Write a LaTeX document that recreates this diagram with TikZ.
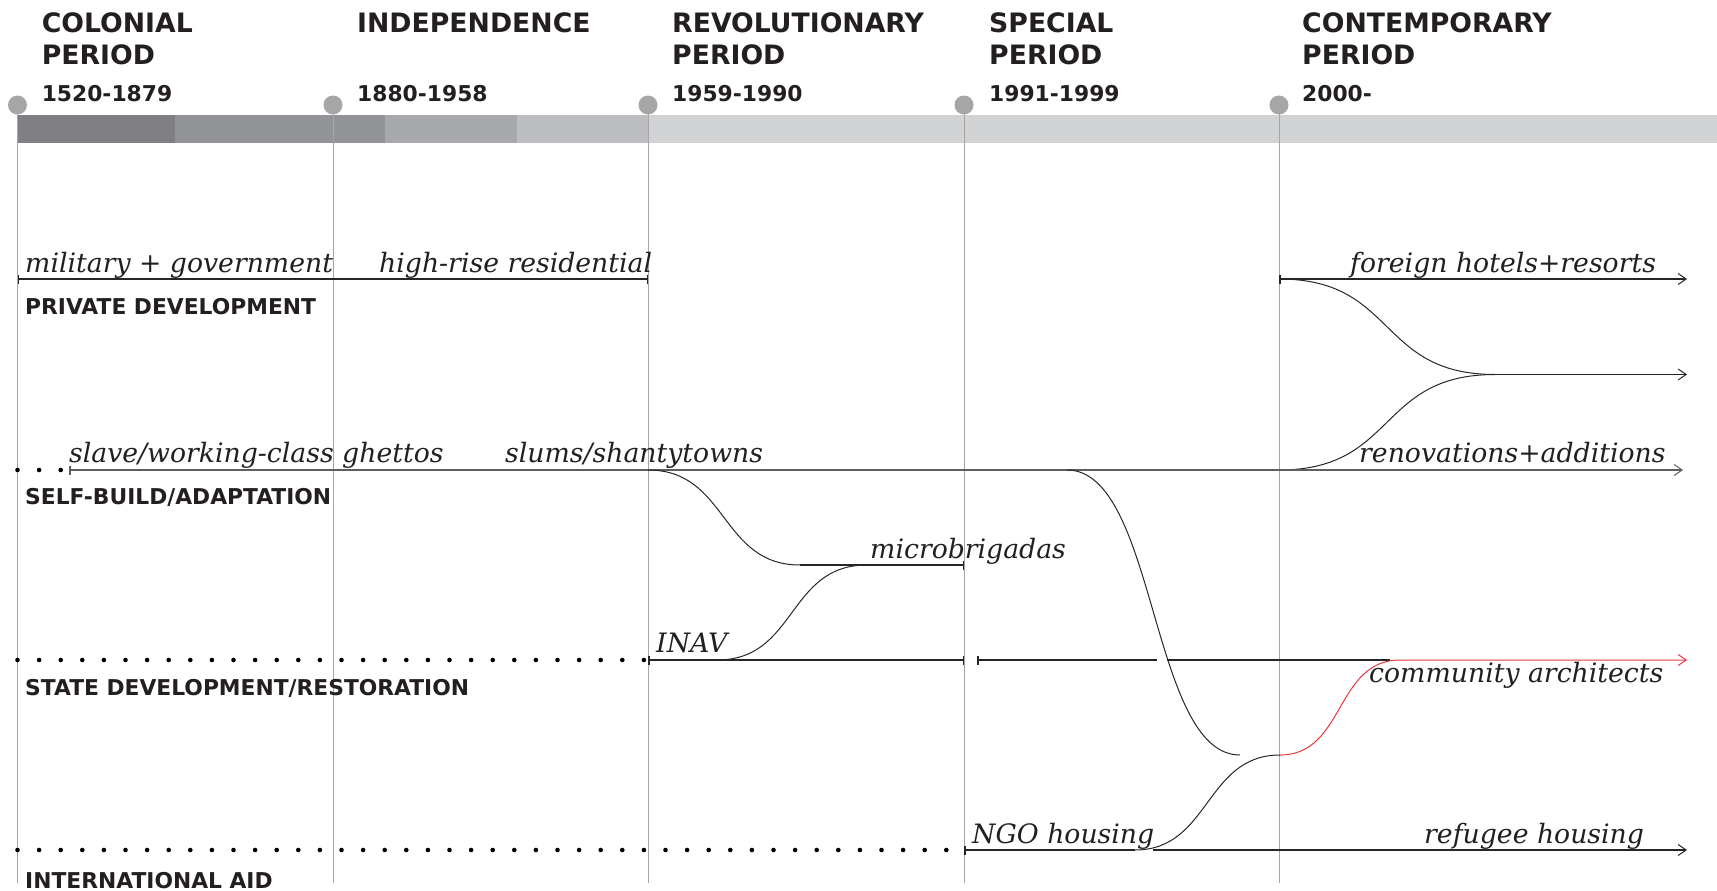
\documentclass[tikz,border=0pt]{standalone}
\usepackage{fontspec}
\setmainfont{DejaVu Serif}
\newfontfamily\headfont{DejaVu Sans}
\usetikzlibrary{arrows.meta,calc}
\definecolor{ink}{HTML}{231F20}
\definecolor{rule}{HTML}{A6A6A6}
\definecolor{barA}{HTML}{808084}
\definecolor{barB}{HTML}{939498}
\definecolor{barC}{HTML}{A8A9AC}
\definecolor{barD}{HTML}{BDBEC1}
\definecolor{barE}{HTML}{D2D3D5}
\definecolor{flow}{HTML}{262626}
\definecolor{selfbuild}{HTML}{5E5E5E}
\definecolor{aidred}{HTML}{E8383D}
\begin{document}
\begin{tikzpicture}[x=1pt,y=-1pt,
  period/.style={anchor=base west, inner sep=0pt, text=ink, font=\headfont\bfseries\fontsize{26.7}{30}\selectfont},
  years/.style={anchor=base west, inner sep=0pt, text=ink, font=\headfont\bfseries\fontsize{21.8}{26}\selectfont},
  rowlabel/.style={years},
  flowlabel/.style={anchor=base west, inner sep=0pt, text=ink, font=\itshape\fontsize{26.7}{30}\selectfont},
  era/.style={draw=rule, line width=1pt},
  marker/.style={circle, fill=rule, minimum size=19pt, inner sep=0pt},
  track/.style={draw=flow, line width=1.3pt},
  selftrack/.style={draw=selfbuild, line width=1.5pt},
  branch/.style={draw=flow, line width=1pt},
  redtrack/.style={draw=aidred, line width=1pt},
  tick both/.style={{Bar[width=9pt,line width=1.5pt]}-{Bar[width=9pt,line width=1.5pt]}},
  tick start/.style={{Bar[width=9pt,line width=1.5pt]}-},
  tick end/.style={-{Bar[width=9pt,line width=1.5pt]}},
  tick tip/.style={{Bar[width=9pt,line width=1.5pt]}-{Straight Barb[length=8pt,width=11pt,line width=1pt]}},
  tip/.style={-{Straight Barb[length=8pt,width=11pt,line width=1pt]}},
  dot/.style={fill=black}
]
\useasboundingbox (0,0) rectangle (1717,891);

% timeline bar, shaded from dark to light
\fill[barA] (17.5,115) rectangle (175,143);
\fill[barB] (175,115) rectangle (385,143);
\fill[barC] (385,115) rectangle (517,143);
\fill[barD] (517,115) rectangle (648,143);
\fill[barE] (648,115) rectangle (1717,143);

% era markers and their guide lines
\foreach \n/\x in {1/17.5,2/333,3/648,4/964,5/1279}{
  \coordinate (foot\n) at (\x,883);
  \coordinate (mark\n) at (\x,105);
  \draw[era] (mark\n) -- (foot\n);
  \node[marker] (dot\n) at (mark\n) {};
}

% era headings
\node[period] (hA1) at (41.6,33) {COLONIAL};
\node[period] (hA2) at (41.6,64.5) {PERIOD};
\node[years]  (yA)  at (41.6,102) {1520-1879};
\node[period] (hB1) at (357,33) {INDEPENDENCE};
\node[years]  (yB)  at (357,102) {1880-1958};
\node[period] (hC1) at (672,33) {REVOLUTIONARY};
\node[period] (hC2) at (672,64.5) {PERIOD};
\node[years]  (yC)  at (672,102) {1959-1990};
\node[period] (hD1) at (989,33) {SPECIAL};
\node[period] (hD2) at (989,64.5) {PERIOD};
\node[years]  (yD)  at (989,102) {1991-1999};
\node[period] (hE1) at (1302,33) {CONTEMPORARY};
\node[period] (hE2) at (1302,64.5) {PERIOD};
\node[years]  (yE)  at (1302,102) {2000-};

% row names
\node[rowlabel] (rPriv)  at (25,314) {PRIVATE DEVELOPMENT};
\node[rowlabel] (rSelf)  at (25,504) {SELF-BUILD/ADAPTATION};
\node[rowlabel] (rState) at (25,695) {STATE DEVELOPMENT/RESTORATION};
\node[rowlabel] (rAid)   at (25,888) {INTERNATIONAL AID};

% key points of the tracks
\coordinate (pA) at (17.5,279);
\coordinate (pB) at (648,279);
\coordinate (cA) at (1279,279);
\coordinate (cB) at (1687,279);
\coordinate (mJ) at (1495,374.5);
\coordinate (mB) at (1687,374.5);
\coordinate (sA) at (69,470);
\coordinate (sB) at (1683,470);
\coordinate (s1) at (648,470);
\coordinate (s2) at (1067,470);
\coordinate (s3) at (1279,470);
\coordinate (mi1) at (800,565);
\coordinate (mi2) at (867,565);
\coordinate (miE) at (964,565);
\coordinate (stA) at (648,660);
\coordinate (stI) at (717,660);
\coordinate (stB) at (964,660);
\coordinate (stC) at (977,660);
\coordinate (stG1) at (1157,660);
\coordinate (stG2) at (1167,660);
\coordinate (stD) at (1390,660);
\coordinate (rA) at (1400,660);
\coordinate (rB) at (1687,660);
\coordinate (jL) at (1240,755);
\coordinate (j) at (1280,755);
\coordinate (aA) at (964,850);
\coordinate (aB) at (1135,850);
\coordinate (aC) at (1153,850);
\coordinate (aD) at (1687,850);

% dotted lead-ins
\foreach \i in {0,1,2} \fill[dot] ({17.5+\i*21.6},470) circle[radius=2.3pt];
\foreach \i in {0,...,29} \fill[dot] ({17.5+\i*21.6},660) circle[radius=2.3pt];
\foreach \i in {0,...,43} \fill[dot] ({17.5+\i*21.6},850) circle[radius=2.3pt];

% private development
\draw[track, tick both] (pA) -- (pB);
\draw[track, tick tip] (cA) -- (cB);
\draw[branch] (cA) .. controls ($(cA)+(118,0)$) and ($(mJ)+(-118,0)$) .. (mJ);
\draw[track, tip] (mJ) -- (mB);
\draw[branch] (s3) .. controls ($(s3)+(118,0)$) and ($(mJ)+(-118,0)$) .. (mJ);

% self-build
\draw[selftrack, tick tip] (sA) -- (sB);
\draw[branch] (s1) .. controls ($(s1)+(80,0)$) and ($(mi1)+(-80,0)$) .. (mi1);
\draw[track, tick end] (mi1) -- (miE);
\draw[branch] (s2) .. controls ($(s2)+(90,0)$) and ($(jL)+(-90,0)$) .. (jL);

% state development
\draw[branch] (stI) .. controls ($(stI)+(80,0)$) and ($(mi2)+(-80,0)$) .. (mi2);
\draw[track, tick both] (stA) -- (stB);
\draw[track, tick start] (stC) -- (stG1);
\draw[track] (stG2) -- (stD);

% international aid
\draw[track, tick start] (aA) -- (aB);
\draw[branch] (aB) .. controls ($(aB)+(75,0)$) and ($(j)+(-75,0)$) .. (j);
\draw[track, tip] (aC) -- (aD);
\draw[redtrack, tip] (j) .. controls ($(j)+(65,0)$) and ($(rA)+(-65,0)$) .. (rA) -- (rB);

% track labels
\node[flowlabel] (lMil)   at (25,272)   {military + government};
\node[flowlabel] (lHigh)  at (379,272)  {high-rise residential};
\node[flowlabel] (lHotel) at (1350,272) {foreign hotels+resorts};
\node[flowlabel] (lSlave) at (69,462)   {slave/working-class ghettos};
\node[flowlabel] (lSlum)  at (505,462)  {slums/shantytowns};
\node[flowlabel] (lRenov) at (1359,462) {renovations+additions};
\node[flowlabel] (lMicro) at (870,558)  {microbrigadas};
\node[flowlabel] (lInav)  at (656,652)  {INAV};
\node[flowlabel] (lComm)  at (1369,682) {community architects};
\node[flowlabel] (lNgo)   at (972,843)  {NGO housing};
\node[flowlabel] (lRefug) at (1424,843) {refugee housing};
\end{tikzpicture}
\end{document}
